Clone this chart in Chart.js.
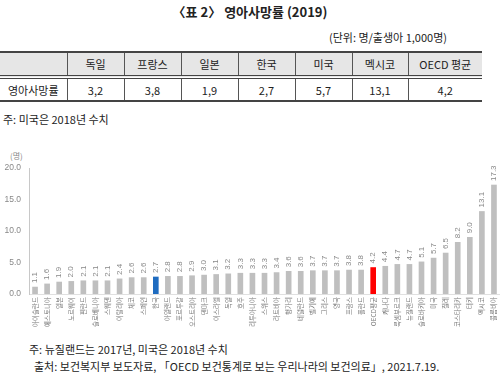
<!DOCTYPE html>
<html>
<head>
<meta charset="utf-8">
<script src="https://cdn.jsdelivr.net/npm/chart.js@4"></script>
<style>
  body { margin: 0; width: 500px; height: 376px; background: #fff; position: relative; overflow: hidden;
         font-family: "Noto Sans CJK KR", "Noto Sans", sans-serif; color: #222; }
  .abs { position: absolute; white-space: nowrap; }
  #title { left: 0; width: 500px; top: 2px; text-align: center; font-size: 13px; font-weight: bold; }
  #unit { right: 53px; top: 29px; font-size: 11px; }
  table { position: absolute; left: 0; top: 51px; width: 482px; border-collapse: collapse; font-size: 11px; table-layout: fixed; }
  th, td { text-align: center; padding: 0; border-left: 1px solid #555; }
  th:first-child, td:first-child { border-left: none; }
  thead tr { background: #e6e6e6; height: 25px; border-top: 2px solid #444; border-bottom: 4px double #444; }
  th { font-weight: normal; }
  tbody tr { height: 24px; border-bottom: 2px solid #444; }
  #note1 { left: 3px; top: 111px; font-size: 11px; }
  #ylabel { left: 10px; top: 150px; font-size: 8px; color: #888; }
  #chartBox { position: absolute; left: 0; top: 145px; width: 500px; height: 190px; }
  #foot1 { left: 29px; top: 341px; font-size: 11px; }
  #foot2 { left: 34px; top: 358px; font-size: 11px; }
</style>
</head>
<body>
<div id="title" class="abs">〈표 2〉 영아사망률 (2019)</div>
<div id="unit" class="abs">(단위: 명/출생아 1,000명)</div>
<table>
  <colgroup>
    <col style="width:67px"><col style="width:57px"><col style="width:57px"><col style="width:57px">
    <col style="width:57px"><col style="width:57px"><col style="width:56px"><col style="width:74px">
  </colgroup>
  <thead><tr id="tableHead"></tr></thead>
  <tbody><tr id="tableRow"></tr></tbody>
</table>
<div id="note1" class="abs">주: 미국은 2018년 수치</div>
<div id="ylabel" class="abs">(명)</div>
<div id="chartBox"><canvas id="infantChart"></canvas></div>
<div id="foot1" class="abs">주: 뉴질랜드는 2017년, 미국은 2018년 수치</div>
<div id="foot2" class="abs">출처: 보건복지부 보도자료, 「OECD 보건통계로 보는 우리나라의 보건의료」, 2021.7.19.</div>

<script>
  // table data
  const tableCols = ['독일', '프랑스', '일본', '한국', '미국', '멕시코', 'OECD 평균'];
  const tableRowLabel = '영아사망률';
  const tableValues = ['3,2', '3,8', '1,9', '2,7', '5,7', '13,1', '4,2'];

  // chart data
  const countries = ['아이슬란드', '에스토니아', '일본', '노르웨이', '핀란드', '슬로베니아', '스웨덴', '이탈리아',
    '체코', '스페인', '한국', '아일랜드', '포르투갈', '오스트리아', '덴마크', '이스라엘', '독일', '호주',
    '리투아니아', '스위스', '라트비아', '헝가리', '네덜란드', '벨기에', '그리스', '영국', '프랑스', '폴란드',
    'OECD평균', '캐나다', '룩셈부르크', '뉴질랜드', '슬로바키아', '미국', '칠레', '코스타리카', '터키',
    '멕시코', '콜롬비아'];
  const rates = [1.1, 1.6, 1.9, 2.0, 2.1, 2.1, 2.1, 2.4, 2.6, 2.6, 2.7, 2.8, 2.8, 2.9, 3.0, 3.1, 3.2, 3.3,
    3.3, 3.3, 3.4, 3.6, 3.6, 3.7, 3.7, 3.7, 3.8, 3.8, 4.2, 4.4, 4.7, 4.7, 5.1, 5.7, 6.5, 8.2, 9.0, 13.1, 17.3];
  const yTicks = [0, 5, 10, 15, 20];

  // build table
  const head = document.getElementById('tableHead');
  const row = document.getElementById('tableRow');
  head.innerHTML = '<th></th>' + tableCols.map(function (c) { return '<th>' + c + '</th>'; }).join('');
  row.innerHTML = '<td>' + tableRowLabel + '</td>' + tableValues.map(function (v) { return '<td>' + v + '</td>'; }).join('');

  const barColors = countries.map(function (c) {
    if (c === '한국') return '#1f6cc0';
    if (c === 'OECD평균') return '#ff0000';
    return '#bfbfbf';
  });

  // value labels above bars, rotated
  const valueLabels = {
    id: 'valueLabels',
    afterDatasetsDraw: function (chart) {
      const ctx = chart.ctx;
      const meta = chart.getDatasetMeta(0);
      ctx.save();
      ctx.fillStyle = '#888';
      ctx.font = '8px "Liberation Sans", sans-serif';
      ctx.textAlign = 'left';
      ctx.textBaseline = 'middle';
      meta.data.forEach(function (bar, i) {
        ctx.save();
        ctx.translate(bar.x, bar.y - 4);
        ctx.rotate(-Math.PI / 2);
        ctx.fillText(rates[i].toFixed(1), 0, 0);
        ctx.restore();
      });
      ctx.restore();
    }
  };

  new Chart(document.getElementById('infantChart'), {
    type: 'bar',
    data: {
      labels: countries,
      datasets: [{
        data: rates,
        backgroundColor: barColors,
        barThickness: 5
      }]
    },
    options: {
      responsive: true,
      maintainAspectRatio: false,
      animation: false,
      layout: { padding: { top: 23, left: 0, right: 0, bottom: 0 } },
      plugins: { legend: { display: false }, tooltip: { enabled: false } },
      scales: {
        x: {
          grid: { display: false, drawTicks: false },
          border: { display: true, color: '#e0e0e0' },
          ticks: {
            autoSkip: false, minRotation: 90, maxRotation: 90, padding: 3,
            color: '#777', font: { size: 6.5, family: '"Noto Sans CJK KR", sans-serif' }
          },
          afterFit: function (scale) {
            scale.height = 41;
            scale.paddingRight = 0;
            scale.paddingLeft = 0;
          }
        },
        y: {
          min: 0, max: 20,
          afterBuildTicks: function (scale) {
            scale.ticks = yTicks.map(function (v) { return { value: v }; });
          },
          grid: { display: false, drawTicks: false },
          border: { display: true, color: '#c8c8c8' },
          ticks: {
            padding: 8, color: '#888',
            font: { size: 8.5, family: '"Liberation Sans", sans-serif' },
            callback: function (v) { return Number(v).toFixed(1); }
          },
          afterFit: function (scale) { scale.width = 29; }
        }
      }
    },
    plugins: [valueLabels]
  });
</script>
</body>
</html>
